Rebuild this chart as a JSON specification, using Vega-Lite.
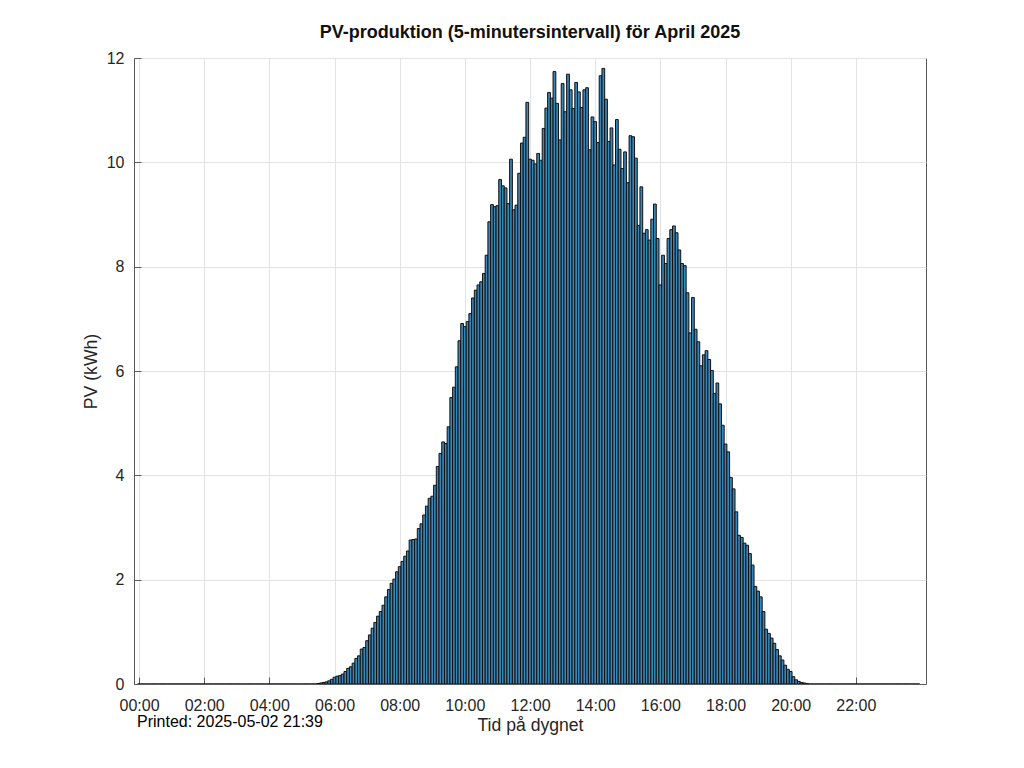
{
  "$schema": "https://vega.github.io/schema/vega-lite/v6.json",
  "width": 792,
  "height": 626,
  "autosize": "none",
  "padding": {"left": 134, "top": 58, "right": 98, "bottom": 84},
  "background": "white",
  "config": {
    "font": "Liberation Sans",
    "view": {"stroke": "#5a5a5a", "strokeWidth": 1},
    "axis": {
      "labelFont": "Liberation Sans",
      "titleFont": "Liberation Sans",
      "labelFontSize": 16,
      "titleFontSize": 17.6,
      "titleFontWeight": "normal",
      "labelColor": "#262626",
      "titleColor": "#262626",
      "gridColor": "#e3e3e3",
      "gridWidth": 1,
      "domainColor": "#5a5a5a",
      "tickColor": "#5a5a5a",
      "tickSize": -7
    }
  },
  "title": {
    "text": "PV-produktion (5-minutersintervall) för April 2025",
    "font": "Liberation Sans",
    "fontSize": 18,
    "fontWeight": "bold",
    "color": "#111111",
    "anchor": "middle",
    "offset": 8
  },
  "layer": [
    {
      "data": {
        "values": [
          {"minut": 0, "kWh": 0}, {"minut": 5, "kWh": 0}, {"minut": 10, "kWh": 0}, {"minut": 15, "kWh": 0}, {"minut": 20, "kWh": 0}, {"minut": 25, "kWh": 0},
          {"minut": 30, "kWh": 0}, {"minut": 35, "kWh": 0}, {"minut": 40, "kWh": 0}, {"minut": 45, "kWh": 0}, {"minut": 50, "kWh": 0}, {"minut": 55, "kWh": 0},
          {"minut": 60, "kWh": 0}, {"minut": 65, "kWh": 0}, {"minut": 70, "kWh": 0}, {"minut": 75, "kWh": 0}, {"minut": 80, "kWh": 0}, {"minut": 85, "kWh": 0},
          {"minut": 90, "kWh": 0}, {"minut": 95, "kWh": 0}, {"minut": 100, "kWh": 0}, {"minut": 105, "kWh": 0}, {"minut": 110, "kWh": 0}, {"minut": 115, "kWh": 0},
          {"minut": 120, "kWh": 0}, {"minut": 125, "kWh": 0}, {"minut": 130, "kWh": 0}, {"minut": 135, "kWh": 0}, {"minut": 140, "kWh": 0}, {"minut": 145, "kWh": 0},
          {"minut": 150, "kWh": 0}, {"minut": 155, "kWh": 0}, {"minut": 160, "kWh": 0}, {"minut": 165, "kWh": 0}, {"minut": 170, "kWh": 0}, {"minut": 175, "kWh": 0},
          {"minut": 180, "kWh": 0}, {"minut": 185, "kWh": 0}, {"minut": 190, "kWh": 0}, {"minut": 195, "kWh": 0}, {"minut": 200, "kWh": 0}, {"minut": 205, "kWh": 0},
          {"minut": 210, "kWh": 0}, {"minut": 215, "kWh": 0}, {"minut": 220, "kWh": 0}, {"minut": 225, "kWh": 0}, {"minut": 230, "kWh": 0}, {"minut": 235, "kWh": 0},
          {"minut": 240, "kWh": 0}, {"minut": 245, "kWh": 0}, {"minut": 250, "kWh": 0}, {"minut": 255, "kWh": 0}, {"minut": 260, "kWh": 0}, {"minut": 265, "kWh": 0},
          {"minut": 270, "kWh": 0}, {"minut": 275, "kWh": 0}, {"minut": 280, "kWh": 0}, {"minut": 285, "kWh": 0}, {"minut": 290, "kWh": 0}, {"minut": 295, "kWh": 0},
          {"minut": 300, "kWh": 0}, {"minut": 305, "kWh": 0}, {"minut": 310, "kWh": 0}, {"minut": 315, "kWh": 0}, {"minut": 320, "kWh": 0}, {"minut": 325, "kWh": 0},
          {"minut": 330, "kWh": 0.01}, {"minut": 335, "kWh": 0.02}, {"minut": 340, "kWh": 0.03}, {"minut": 345, "kWh": 0.04}, {"minut": 350, "kWh": 0.06}, {"minut": 355, "kWh": 0.09},
          {"minut": 360, "kWh": 0.13}, {"minut": 365, "kWh": 0.15}, {"minut": 370, "kWh": 0.16}, {"minut": 375, "kWh": 0.19}, {"minut": 380, "kWh": 0.24}, {"minut": 385, "kWh": 0.30},
          {"minut": 390, "kWh": 0.33}, {"minut": 395, "kWh": 0.40}, {"minut": 400, "kWh": 0.49}, {"minut": 405, "kWh": 0.54}, {"minut": 410, "kWh": 0.67}, {"minut": 415, "kWh": 0.70},
          {"minut": 420, "kWh": 0.83}, {"minut": 425, "kWh": 0.94}, {"minut": 430, "kWh": 1.07}, {"minut": 435, "kWh": 1.18}, {"minut": 440, "kWh": 1.30}, {"minut": 445, "kWh": 1.39},
          {"minut": 450, "kWh": 1.51}, {"minut": 455, "kWh": 1.67}, {"minut": 460, "kWh": 1.81}, {"minut": 465, "kWh": 1.93}, {"minut": 470, "kWh": 2.01}, {"minut": 475, "kWh": 2.15},
          {"minut": 480, "kWh": 2.25}, {"minut": 485, "kWh": 2.35}, {"minut": 490, "kWh": 2.45}, {"minut": 495, "kWh": 2.55}, {"minut": 500, "kWh": 2.76}, {"minut": 505, "kWh": 2.77},
          {"minut": 510, "kWh": 2.78}, {"minut": 515, "kWh": 2.98}, {"minut": 520, "kWh": 3.07}, {"minut": 525, "kWh": 3.24}, {"minut": 530, "kWh": 3.41}, {"minut": 535, "kWh": 3.56},
          {"minut": 540, "kWh": 3.60}, {"minut": 545, "kWh": 3.81}, {"minut": 550, "kWh": 4.17}, {"minut": 555, "kWh": 4.42}, {"minut": 560, "kWh": 4.64}, {"minut": 565, "kWh": 4.61},
          {"minut": 570, "kWh": 4.93}, {"minut": 575, "kWh": 5.49}, {"minut": 580, "kWh": 5.69}, {"minut": 585, "kWh": 6.08}, {"minut": 590, "kWh": 6.58}, {"minut": 595, "kWh": 6.91},
          {"minut": 600, "kWh": 6.85}, {"minut": 605, "kWh": 6.95}, {"minut": 610, "kWh": 7.10}, {"minut": 615, "kWh": 7.40}, {"minut": 620, "kWh": 7.55}, {"minut": 625, "kWh": 7.65},
          {"minut": 630, "kWh": 7.71}, {"minut": 635, "kWh": 7.87}, {"minut": 640, "kWh": 8.22}, {"minut": 645, "kWh": 8.86}, {"minut": 650, "kWh": 9.19}, {"minut": 655, "kWh": 9.15},
          {"minut": 660, "kWh": 9.17}, {"minut": 665, "kWh": 9.67}, {"minut": 670, "kWh": 9.55}, {"minut": 675, "kWh": 9.51}, {"minut": 680, "kWh": 9.21}, {"minut": 685, "kWh": 10.06},
          {"minut": 690, "kWh": 9.09}, {"minut": 695, "kWh": 9.18}, {"minut": 700, "kWh": 9.79}, {"minut": 705, "kWh": 10.37}, {"minut": 710, "kWh": 10.48}, {"minut": 715, "kWh": 11.15},
          {"minut": 720, "kWh": 10.06}, {"minut": 725, "kWh": 10.04}, {"minut": 730, "kWh": 9.97}, {"minut": 735, "kWh": 10.17}, {"minut": 740, "kWh": 10.04}, {"minut": 745, "kWh": 10.65},
          {"minut": 750, "kWh": 11.04}, {"minut": 755, "kWh": 11.34}, {"minut": 760, "kWh": 11.23}, {"minut": 765, "kWh": 11.74}, {"minut": 770, "kWh": 11.13}, {"minut": 775, "kWh": 10.43},
          {"minut": 780, "kWh": 11.51}, {"minut": 785, "kWh": 10.97}, {"minut": 790, "kWh": 11.69}, {"minut": 795, "kWh": 11.39}, {"minut": 800, "kWh": 11.03}, {"minut": 805, "kWh": 11.53},
          {"minut": 810, "kWh": 11.35}, {"minut": 815, "kWh": 11.05}, {"minut": 820, "kWh": 11.39}, {"minut": 825, "kWh": 11.43}, {"minut": 830, "kWh": 10.24}, {"minut": 835, "kWh": 10.87},
          {"minut": 840, "kWh": 10.78}, {"minut": 845, "kWh": 10.38}, {"minut": 850, "kWh": 11.66}, {"minut": 855, "kWh": 11.80}, {"minut": 860, "kWh": 11.21}, {"minut": 865, "kWh": 10.40},
          {"minut": 870, "kWh": 10.66}, {"minut": 875, "kWh": 9.95}, {"minut": 880, "kWh": 10.82}, {"minut": 885, "kWh": 10.25}, {"minut": 890, "kWh": 9.88}, {"minut": 895, "kWh": 10.20},
          {"minut": 900, "kWh": 9.61}, {"minut": 905, "kWh": 10.51}, {"minut": 910, "kWh": 10.49}, {"minut": 915, "kWh": 10.08}, {"minut": 920, "kWh": 8.79}, {"minut": 925, "kWh": 9.53},
          {"minut": 930, "kWh": 8.64}, {"minut": 935, "kWh": 8.71}, {"minut": 940, "kWh": 8.51}, {"minut": 945, "kWh": 8.91}, {"minut": 950, "kWh": 9.20}, {"minut": 955, "kWh": 8.54},
          {"minut": 960, "kWh": 7.65}, {"minut": 965, "kWh": 8.22}, {"minut": 970, "kWh": 8.06}, {"minut": 975, "kWh": 8.54}, {"minut": 980, "kWh": 8.71}, {"minut": 985, "kWh": 8.78},
          {"minut": 990, "kWh": 8.65}, {"minut": 995, "kWh": 8.32}, {"minut": 1000, "kWh": 8.06}, {"minut": 1005, "kWh": 8.02}, {"minut": 1010, "kWh": 7.50}, {"minut": 1015, "kWh": 6.73},
          {"minut": 1020, "kWh": 7.41}, {"minut": 1025, "kWh": 6.80}, {"minut": 1030, "kWh": 6.56}, {"minut": 1035, "kWh": 6.10}, {"minut": 1040, "kWh": 6.31}, {"minut": 1045, "kWh": 6.39},
          {"minut": 1050, "kWh": 6.22}, {"minut": 1055, "kWh": 6.01}, {"minut": 1060, "kWh": 5.57}, {"minut": 1065, "kWh": 5.77}, {"minut": 1070, "kWh": 5.37}, {"minut": 1075, "kWh": 4.96},
          {"minut": 1080, "kWh": 4.60}, {"minut": 1085, "kWh": 4.45}, {"minut": 1090, "kWh": 3.96}, {"minut": 1095, "kWh": 3.74}, {"minut": 1100, "kWh": 3.30}, {"minut": 1105, "kWh": 2.85},
          {"minut": 1110, "kWh": 2.81}, {"minut": 1115, "kWh": 2.70}, {"minut": 1120, "kWh": 2.66}, {"minut": 1125, "kWh": 2.50}, {"minut": 1130, "kWh": 2.28}, {"minut": 1135, "kWh": 1.87},
          {"minut": 1140, "kWh": 1.78}, {"minut": 1145, "kWh": 1.67}, {"minut": 1150, "kWh": 1.39}, {"minut": 1155, "kWh": 1.05}, {"minut": 1160, "kWh": 0.97}, {"minut": 1165, "kWh": 0.88},
          {"minut": 1170, "kWh": 0.78}, {"minut": 1175, "kWh": 0.66}, {"minut": 1180, "kWh": 0.54}, {"minut": 1185, "kWh": 0.46}, {"minut": 1190, "kWh": 0.36}, {"minut": 1195, "kWh": 0.28},
          {"minut": 1200, "kWh": 0.24}, {"minut": 1205, "kWh": 0.14}, {"minut": 1210, "kWh": 0.08}, {"minut": 1215, "kWh": 0.05}, {"minut": 1220, "kWh": 0.03}, {"minut": 1225, "kWh": 0.02},
          {"minut": 1230, "kWh": 0.01}, {"minut": 1235, "kWh": 0}, {"minut": 1240, "kWh": 0}, {"minut": 1245, "kWh": 0}, {"minut": 1250, "kWh": 0}, {"minut": 1255, "kWh": 0},
          {"minut": 1260, "kWh": 0}, {"minut": 1265, "kWh": 0}, {"minut": 1270, "kWh": 0}, {"minut": 1275, "kWh": 0}, {"minut": 1280, "kWh": 0}, {"minut": 1285, "kWh": 0},
          {"minut": 1290, "kWh": 0}, {"minut": 1295, "kWh": 0}, {"minut": 1300, "kWh": 0}, {"minut": 1305, "kWh": 0}, {"minut": 1310, "kWh": 0}, {"minut": 1315, "kWh": 0},
          {"minut": 1320, "kWh": 0}, {"minut": 1325, "kWh": 0}, {"minut": 1330, "kWh": 0}, {"minut": 1335, "kWh": 0}, {"minut": 1340, "kWh": 0}, {"minut": 1345, "kWh": 0},
          {"minut": 1350, "kWh": 0}, {"minut": 1355, "kWh": 0}, {"minut": 1360, "kWh": 0}, {"minut": 1365, "kWh": 0}, {"minut": 1370, "kWh": 0}, {"minut": 1375, "kWh": 0},
          {"minut": 1380, "kWh": 0}, {"minut": 1385, "kWh": 0}, {"minut": 1390, "kWh": 0}, {"minut": 1395, "kWh": 0}, {"minut": 1400, "kWh": 0}, {"minut": 1405, "kWh": 0},
          {"minut": 1410, "kWh": 0}, {"minut": 1415, "kWh": 0}, {"minut": 1420, "kWh": 0}, {"minut": 1425, "kWh": 0}, {"minut": 1430, "kWh": 0}, {"minut": 1435, "kWh": 0}
        ]
      },
      "mark": {"type": "bar", "size": 2.75, "fill": "#3a86b6", "stroke": "#111111", "strokeWidth": 1, "clip": true},
      "encoding": {
        "x": {
          "field": "minut",
          "type": "quantitative",
          "scale": {"domain": [0, 1440], "nice": false, "zero": false},
          "axis": {
            "title": "Tid på dygnet",
            "values": [0, 120, 240, 360, 480, 600, 720, 840, 960, 1080, 1200, 1320],
            "labelExpr": "utcFormat(datum.value * 60000, '%H:%M')",
            "grid": true,
            "labelPadding": 20,
            "titlePadding": 3
          }
        },
        "y": {
          "field": "kWh",
          "type": "quantitative",
          "scale": {"domain": [0, 12], "nice": false},
          "axis": {
            "title": "PV (kWh)",
            "values": [0, 2, 4, 6, 8, 10, 12],
            "grid": true,
            "labelPadding": 17,
            "titlePadding": 6
          }
        }
      }
    },
    {
      "data": {"values": [{"notis": "Printed: 2025-05-02 21:39"}]},
      "mark": {"type": "text", "align": "left", "baseline": "middle", "fontSize": 16, "font": "Liberation Sans", "color": "#000000", "dx": -2},
      "encoding": {
        "x": {"datum": 0},
        "y": {"datum": -0.73},
        "text": {"field": "notis"}
      }
    }
  ]
}
